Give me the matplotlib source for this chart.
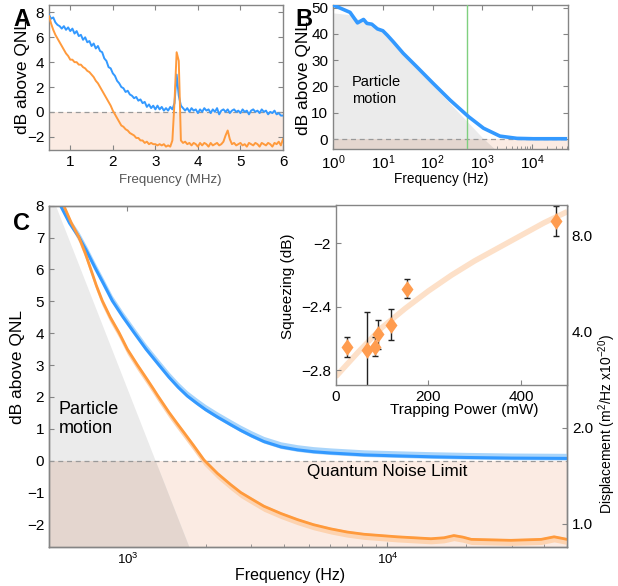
import matplotlib
matplotlib.use("Agg")
import matplotlib.pyplot as plt  # noqa: E402
import numpy as np  # noqa: E402
from matplotlib.patches import Rectangle  # noqa: E402
from matplotlib.ticker import FixedLocator, FixedFormatter, NullLocator, LogLocator  # noqa: E402

plt.rcParams["font.family"] = ["Liberation Sans", "DejaVu Sans"]
plt.rcParams["mathtext.fontset"] = "custom"
plt.rcParams["mathtext.rm"] = "Liberation Sans"
plt.rcParams["mathtext.it"] = "Liberation Sans:italic"
plt.rcParams["mathtext.bf"] = "Liberation Sans:bold"

BLUE, ORANGE = "#3399ff", "#ff9a3c"
BLUE_BAND, ORANGE_BAND = "#a9d5fb", "#fdd3b0"
PEACH, GRAY, OVERLAP = "#fbebe3", "#ebebeb", "#e4d6cf"
SPINE = "#858585"

# ---- panel A: spectra vs frequency (MHz), 0.05 MHz grid ----
a_freq = np.round(np.arange(0.5, 6.0001, 0.05), 2)
a_blue = [7.8, 7.5, 7.6, 7.2, 7.0, 6.9, 6.7, 6.9, 6.6, 6.8, 6.5, 6.7, 6.3, 6.5, 6.1,
          6.2, 5.8, 6.0, 5.6, 5.7, 5.3, 5.5, 5.1, 5.3, 4.9, 4.8, 4.3, 4.1, 3.6, 3.5,
          3.1, 2.9, 2.5, 2.3, 2.0, 1.9, 1.6, 1.7, 1.4, 1.3, 1.1, 1.2, 0.9, 1.0, 0.7,
          0.8, 0.4, 0.6, 0.3, 0.5, 0.2, 0.5, 0.2, 0.4, 0.1, 0.3, 0.1, 0.4, 0.2, 0.7,
          3.0, 1.3, 0.5, 0.3, 0.1, 0.3, 0.0, 0.3, 0.1, 0.2, -0.1, 0.2, 0.0, 0.3, 0.1,
          0.2, -0.1, 0.2, 0.0, 0.3, -0.2, 0.1, 0.2, 0.0, 0.2, -0.1, 0.1, 0.2, 0.0, 0.1,
          -0.1, 0.2, 0.0, 0.1, -0.2, 0.1, 0.2, 0.0, 0.1, -0.1, 0.2, 0.0, 0.1, -0.2, 0.0,
          -0.1, 0.1, -0.2, -0.1, -0.3, -0.3]
a_orange = [7.7, 7.1, 6.6, 6.2, 5.9, 5.6, 5.3, 5.0, 4.7, 4.5, 4.2, 4.2, 4.0, 4.0, 3.8,
            3.8, 3.6, 3.5, 3.3, 3.2, 3.0, 2.8, 2.5, 2.3, 2.0, 1.7, 1.4, 1.1, 0.8, 0.5,
            0.1, -0.2, -0.5, -0.8, -1.1, -1.2, -1.4, -1.5, -1.7, -1.8, -1.9, -2.1, -2.1, -2.3, -2.3,
            -2.5, -2.4, -2.6, -2.5, -2.6, -2.6, -2.7, -2.6, -2.7, -2.6, -2.8, -2.7, -2.8, -2.3, 0.8,
            4.8, 4.1, -2.3, -2.5, -2.4, -2.6, -2.5, -2.7, -2.5, -2.6, -2.8, -2.5, -2.7, -2.5, -2.6,
            -2.8, -2.5, -2.7, -2.6, -2.5, -2.7, -2.6, -2.4, -1.9, -1.5, -2.2, -2.6, -2.5, -2.7, -2.6,
            -2.5, -2.7, -2.6, -2.8, -2.5, -2.6, -2.7, -2.5, -2.6, -2.8, -2.5, -2.6, -2.7, -2.5, -2.6,
            -2.8, -2.5, -2.6, -2.4, -2.7, -2.2]

# ---- panel B: low-frequency spectrum (Hz) ----
b_freq = [1, 2.2, 3.1, 4.1, 4.8, 6.0, 7.8, 10, 12.3, 16.2, 25.7, 47.9, 102, 224, 525, 1050, 2240, 4900, 10500, 50000]
b_blue = [51.0, 48.2, 44.2, 45.5, 44.0, 43.7, 41.9, 41.2, 39.5, 37.0, 32.6, 27.5, 21.2, 14.8, 8.5, 4.1, 1.1, 0.25, 0.1, 0.1]
b_motion_f = [1, 2.2, 10, 100, 1000, 1800]
b_motion_db = [48, 47.3, 40.5, 20.5, 0.5, -4.0]
b_trap_f = 500

# ---- panel C: spectra near the QNL ----
c_blue_f = [530, 554, 600, 652, 700, 755, 810, 875, 960, 1061, 1180, 1320, 1445, 1570, 1700,
            1850, 2000, 2220, 2495, 2730, 3000, 3350, 3900, 4510, 5200, 6050, 8130, 10900, 15000,
            20000, 30000, 49000]
c_blue = [8.35, 8.0, 7.45, 7.01, 6.55, 6.02, 5.55, 5.02, 4.52, 4.02, 3.5, 3.01, 2.62, 2.3, 2.03,
          1.8, 1.6, 1.37, 1.13, 0.95, 0.78, 0.6, 0.43, 0.34, 0.28, 0.24, 0.18, 0.15, 0.12,
          0.1, 0.08, 0.07]
c_orange_f = [540, 570, 610, 652, 690, 723, 760, 801, 860, 929, 1000, 1092, 1194, 1260, 1304,
              1370, 1445, 1550, 1652, 1800, 1972, 2220, 2495, 2730, 3000, 3350, 3900, 4510, 5200,
              6050, 7000, 8130, 10900, 14700, 16500, 18000, 19500, 21000, 29800, 39000, 43700,
              47000, 49000]
c_orange = [8.4, 8.0, 7.45, 7.01, 6.5, 6.02, 5.5, 5.02, 4.5, 4.02, 3.5, 3.01, 2.54, 2.25, 2.06,
            1.8, 1.52, 1.18, 0.88, 0.47, 0.02, -0.4, -0.75, -1.0, -1.2, -1.43, -1.66, -1.85, -2.01,
            -2.14, -2.24, -2.31, -2.39, -2.45, -2.42, -2.35, -2.4, -2.47, -2.5, -2.47, -2.39,
            -2.44, -2.47]
c_motion_f = [530, 1725]
c_motion_db = [8.0, -2.7]
disp_ref_db = -1.98        # dB level where displacement = 1.0 x1e-20 m^2/Hz
disp_ticks = [1.0, 2.0, 4.0, 8.0]

# ---- inset: squeezing vs trapping power ----
power = [25, 67, 85.5, 92, 118.6, 155, 474.6]
squeeze = [-2.652, -2.673, -2.652, -2.572, -2.511, -2.287, -1.857]
squeeze_err = [0.065, 0.24, 0.06, 0.09, 0.095, 0.06, 0.095]
fit_power = [0, 50, 100, 150, 200, 250, 300, 350, 400, 450, 500]
fit_squeeze = [-2.84, -2.68, -2.53, -2.41, -2.30, -2.20, -2.11, -2.03, -1.95, -1.87, -1.80]

W, H = 618, 586


def px_axes(l, t, r, b):
    return [l / W, 1 - b / H, (r - l) / W, (b - t) / H]


def style(ax, fs=11):
    for s in ax.spines.values():
        s.set_color(SPINE)
        s.set_linewidth(1.0)
    ax.tick_params(which="both", direction="in", colors=SPINE, labelcolor="black", labelsize=fs)
    ax.tick_params(which="major", length=3.5)
    ax.tick_params(which="minor", length=2)


def below_zero_clip(ax, xlim, ylim):
    return Rectangle((xlim[0], ylim[0]), xlim[1] - xlim[0], 0 - ylim[0], transform=ax.transData)


fig = plt.figure(figsize=(W / 100, H / 100), dpi=100)

# ---------------- A ----------------
axA = fig.add_axes(px_axes(49, 5, 283, 150))
axA.axhspan(-10, 0, color=PEACH, lw=0, zorder=0)
axA.axhline(0, color="#999999", ls=(0, (4, 3)), lw=0.9, zorder=2)
axA.plot(a_freq, a_blue, color=BLUE, lw=1.4, zorder=3)
axA.plot(a_freq, a_orange, color=ORANGE, lw=1.4, zorder=4)
axA.set_xlim(0.5, 6)
axA.set_ylim(-3.07, 8.6)
axA.set_xticks([1, 2, 3, 4, 5, 6])
axA.set_yticks([-2, 0, 2, 4, 6, 8])
style(axA)
axA.tick_params(top=True, right=True)
axA.set_ylabel("dB above QNL", fontsize=12.5)
axA.yaxis.set_label_coords(-0.08, 0.5)
axA.set_xlabel("Frequency (MHz)", fontsize=9.5, color="#555555")
axA.xaxis.set_label_coords(0.52, -0.165)

# ---------------- B ----------------
axB = fig.add_axes(px_axes(333, 5, 568, 149))
axB.set_xscale("log")
b_xlim, b_ylim = (1, 5.2e4), (-3.8, 51)
axB.set_xlim(*b_xlim)
axB.set_ylim(*b_ylim)
axB.axhspan(-10, 0, color=PEACH, lw=0, zorder=0)
axB.fill_between(b_motion_f, b_ylim[0], b_motion_db, color=GRAY, lw=0, zorder=1)
ovB = axB.fill_between(b_motion_f, b_ylim[0], b_motion_db, color=OVERLAP, lw=0, zorder=2)
ovB.set_clip_path(below_zero_clip(axB, b_xlim, b_ylim))
axB.axhline(0, color="#999999", ls=(0, (4, 3)), lw=0.9, zorder=3)
axB.axvline(b_trap_f, color="#7fd07f", lw=1.0, zorder=3)
axB.plot(b_freq, b_blue, color=BLUE, lw=2.6, zorder=4, solid_capstyle="butt")
axB.set_xticks([1, 10, 100, 1000, 10000])
axB.set_xticklabels([r"$10^0$", r"$10^1$", r"$10^2$", r"$10^3$", r"$10^4$"])
axB.xaxis.set_minor_locator(LogLocator(base=10, subs=np.arange(2, 10)))
axB.set_yticks([0, 10, 20, 30, 40, 50])
style(axB)
axB.tick_params(top=True, right=True)
axB.text(2.37, 24.3, "Particle\nmotion", fontsize=10.5, va="top", ha="left", linespacing=1.3, zorder=5)
axB.set_ylabel("dB above QNL", fontsize=12.5)
axB.yaxis.set_label_coords(-0.092, 0.49)
axB.set_xlabel("Frequency (Hz)", fontsize=9.8)
axB.xaxis.set_label_coords(0.4625, -0.16)

# ---------------- C ----------------
axC = fig.add_axes(px_axes(49, 205.7, 567, 546.7))
axC.set_xscale("log")
c_xlim, c_ylim = (500, 4.9e4), (-2.7, 8)
axC.set_xlim(*c_xlim)
axC.set_ylim(*c_ylim)
axC.axhspan(-10, 0, color=PEACH, lw=0, zorder=0)
axC.fill_betweenx(c_motion_db, c_xlim[0], c_motion_f, color=GRAY, lw=0, zorder=1)
ovC = axC.fill_betweenx(c_motion_db, c_xlim[0], c_motion_f, color=OVERLAP, lw=0, zorder=2)
ovC.set_clip_path(below_zero_clip(axC, c_xlim, c_ylim))
axC.axhline(0, color="#999999", ls=(0, (4, 3)), lw=0.9, zorder=3)
cb = np.asarray(c_blue)
co = np.asarray(c_orange)
axC.fill_between(c_blue_f, cb - 0.05, cb + 0.16, color=BLUE_BAND, lw=0, zorder=4)
axC.plot(c_blue_f, c_blue, color=BLUE, lw=2.2, zorder=5)
axC.fill_between(c_orange_f, co - 0.16, co + 0.05, color=ORANGE_BAND, lw=0, zorder=4)
axC.plot(c_orange_f, c_orange, color=ORANGE, lw=2.0, zorder=5)
axC.set_xticks([1000, 10000])
axC.set_xticklabels([r"$10^3$", r"$10^4$"])
axC.xaxis.set_minor_locator(LogLocator(base=10, subs=np.arange(2, 10)))
axC.xaxis.set_minor_formatter(FixedFormatter([]))
axC.set_yticks(range(-2, 9))
style(axC)
axC.tick_params(axis="x", labelsize=9.5)
axC.tick_params(top=True, right=False)
axC.text(546, 1.86, "Particle\nmotion", fontsize=13, va="top", ha="left", linespacing=1.15, zorder=6)
axC.text(4920, -0.12, "Quantum Noise Limit", fontsize=12.3, va="top", ha="left", zorder=6)
axC.set_ylabel("dB above QNL", fontsize=12.5)
axC.yaxis.set_label_coords(-0.046, 0.528)
axC.set_xlabel("Frequency (Hz)", fontsize=11.5)
axC.xaxis.set_label_coords(0.466, -0.062)

axR = axC.twinx()
axR.set_yscale("log")
axR.set_ylim(10 ** ((c_ylim[0] - disp_ref_db) / 10), 10 ** ((c_ylim[1] - disp_ref_db) / 10))
axR.yaxis.set_major_locator(FixedLocator(disp_ticks))
axR.yaxis.set_major_formatter(FixedFormatter([f"{v:.1f}" for v in disp_ticks]))
axR.yaxis.set_minor_locator(NullLocator())
style(axR, fs=11)
axR.set_ylabel(r"Displacement (m$^2$/Hz x10$^{-20}$)", fontsize=10)
axR.yaxis.set_label_coords(1.056, 0.36)

# ---------------- inset ----------------
axI = fig.add_axes(px_axes(335.7, 205.3, 567.3, 384.7))
axI.set_facecolor("white")
axI.plot(fit_power, fit_squeeze, color="#fde0c8", lw=4, zorder=1, solid_capstyle="butt")
axI.errorbar(power, squeeze, yerr=squeeze_err, fmt="none", ecolor="#222222", elinewidth=1,
             capsize=2.5, capthick=1, zorder=2)
diamond = [(0, 1), (0.72, 0), (0, -1), (-0.72, 0), (0, 1)]
axI.plot(power, squeeze, ls="none", marker=diamond, ms=12, color="#ff9c4f", mec="none", zorder=3)
axI.set_xlim(0, 500)
axI.set_ylim(-2.89, -1.76)
axI.set_xticks([0, 200, 400])
axI.yaxis.set_major_locator(FixedLocator([-2.8, -2.4, -2.0]))
axI.yaxis.set_major_formatter(FixedFormatter(["\u22122.8", "\u22122.4", "\u22122"]))
style(axI, fs=11)
axI.set_ylabel("Squeezing (dB)", fontsize=11)
axI.yaxis.set_label_coords(-0.176, 0.55)
axI.set_xlabel("Trapping Power (mW)", fontsize=11)
axI.xaxis.set_label_coords(0.556, -0.1)

# panel letters
for lbl, x, y in (("A", 13, 8), ("B", 295, 8), ("C", 13, 212)):
    fig.text(x / W, 1 - y / H, lbl, fontsize=17, fontweight="bold", ha="left", va="top")

fig.savefig("out.png", dpi=100, facecolor="white")
